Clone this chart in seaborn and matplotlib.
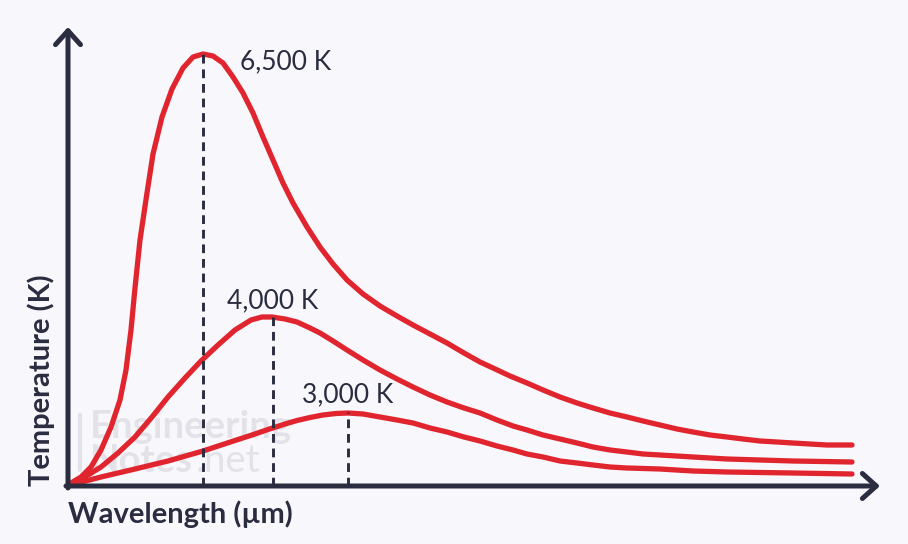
import matplotlib
matplotlib.use("Agg")
import matplotlib.pyplot as plt
import numpy as np
import pandas as pd
import seaborn as sns

# curves (arbitrary units: wavelength, intensity)
wl_6500 = [0.00, 0.03, 0.13, 0.23, 0.33, 0.43, 0.52, 0.58, 0.63, 0.67, 0.72, 0.79, 0.85,
           0.94, 1.04, 1.15, 1.25, 1.35, 1.45, 1.55, 1.65, 1.75, 1.85, 1.95, 2.05, 2.15,
           2.25, 2.39, 2.52, 2.65, 2.79, 2.95, 3.12, 3.29, 3.45, 3.62, 3.79, 3.96, 4.12,
           4.25, 4.42, 4.59, 4.75, 4.92, 5.09, 5.25, 5.42, 5.59, 5.75, 5.92, 6.09, 6.25,
           6.42, 6.59, 6.75, 6.92, 7.09, 7.25, 7.42, 7.59, 7.84]
in_6500 = [0.00, 0.03, 0.09, 0.19, 0.36, 0.59, 0.86, 1.16, 1.56, 1.98, 2.46, 2.93, 3.32,
           3.69, 3.97, 4.18, 4.29, 4.32, 4.30, 4.23, 4.09, 3.93, 3.73, 3.49, 3.26, 3.03,
           2.83, 2.59, 2.39, 2.22, 2.06, 1.92, 1.80, 1.70, 1.61, 1.52, 1.43, 1.33, 1.24,
           1.18, 1.10, 1.03, 0.96, 0.89, 0.83, 0.78, 0.73, 0.69, 0.65, 0.61, 0.57, 0.54,
           0.51, 0.49, 0.47, 0.45, 0.44, 0.43, 0.42, 0.41, 0.41]

wl_4000 = [0.00, 0.07, 0.20, 0.33, 0.50, 0.67, 0.84, 1.00, 1.17, 1.33, 1.50, 1.67, 1.83,
           1.94, 2.04, 2.17, 2.29, 2.42, 2.52, 2.65, 2.79, 2.95, 3.12, 3.29, 3.45, 3.62,
           3.79, 3.96, 4.12, 4.29, 4.45, 4.59, 4.75, 4.92, 5.09, 5.25, 5.42, 5.59, 5.75,
           5.92, 6.25, 6.59, 6.92, 7.25, 7.84]
in_4000 = [0.00, 0.04, 0.11, 0.19, 0.33, 0.49, 0.69, 0.89, 1.08, 1.25, 1.41, 1.56, 1.66,
           1.69, 1.69, 1.67, 1.64, 1.58, 1.53, 1.45, 1.36, 1.26, 1.16, 1.07, 0.99, 0.91,
           0.84, 0.78, 0.73, 0.66, 0.60, 0.56, 0.51, 0.47, 0.43, 0.39, 0.36, 0.34, 0.32,
           0.31, 0.29, 0.27, 0.26, 0.25, 0.24]

wl_3000 = [0.00, 0.10, 0.33, 0.67, 1.00, 1.35, 1.67, 1.84, 2.00, 2.17, 2.29, 2.42, 2.55,
           2.68, 2.80, 2.95, 3.12, 3.29, 3.45, 3.62, 3.79, 3.96, 4.12, 4.29, 4.45, 4.59,
           4.75, 4.92, 5.09, 5.25, 5.42, 5.59, 5.92, 6.25, 6.59, 7.25, 7.84]
in_3000 = [0.00, 0.03, 0.09, 0.17, 0.25, 0.35, 0.455, 0.51, 0.565, 0.62, 0.655, 0.685, 0.71,
           0.725, 0.73, 0.72, 0.69, 0.66, 0.63, 0.58, 0.54, 0.49, 0.45, 0.40, 0.36, 0.32,
           0.29, 0.25, 0.23, 0.21, 0.19, 0.18, 0.17, 0.15, 0.14, 0.13, 0.12]

labels = ["6,500 K", "4,000 K", "3,000 K"]
peak_wl = [1.35, 2.05, 2.80]
peak_in = [4.32, 1.69, 0.74]

RED = "#e1252f"
NAVY = "#2a2c40"
BG = "#f8f8fc"

df = pd.concat([
    pd.DataFrame({"wl": wl_6500, "I": in_6500, "T": labels[0]}),
    pd.DataFrame({"wl": wl_4000, "I": in_4000, "T": labels[1]}),
    pd.DataFrame({"wl": wl_3000, "I": in_3000, "T": labels[2]}),
])

sns.set_theme(style="white")
plt.rcParams["font.family"] = ["Lato", "DejaVu Sans"]

fig = plt.figure(figsize=(9.08, 5.44), dpi=100, facecolor=BG)
ax = fig.add_axes([0, 0, 1, 1])
ax.set_facecolor(BG)
ax.set_xlim(-0.68, 8.40)
ax.set_ylim(-0.58, 4.86)
ax.axis("off")

# watermark
wm = "#e2e2e8"
ax.text(0.22, 0.48, "Engineering", fontsize=27.5, fontweight="bold", color=wm, zorder=0)
ax.text(0.22, 0.14, "Notes", fontsize=27.5, fontweight="bold", color=wm, zorder=0)
ax.text(1.28, 0.14, ".net", fontsize=27.5, color=wm, zorder=0)
ax.plot([0.12, 0.12], [0.16, 0.71], color=wm, lw=3, zorder=0)

sns.lineplot(data=df, x="wl", y="I", hue="T", palette=[RED] * 3, legend=False,
             sort=False, lw=3.8, solid_capstyle="round", solid_joinstyle="round",
             ax=ax, zorder=2)

ax.vlines(peak_wl, 0, peak_in, colors=NAVY, linestyles=(0, (3, 2)), lw=2.1, zorder=3)

label_pos = [(1.72, 4.24), (1.59, 1.85), (2.34, 0.91)]
for lab, (lx, ly) in zip(labels, label_pos):
    ax.text(lx, ly, lab, fontsize=19, color=NAVY, ha="left", va="center")

# axes with arrows
arrow = dict(arrowstyle="->,head_length=0.5,head_width=0.45", color=NAVY, lw=3.6,
             shrinkA=0, shrinkB=0, mutation_scale=20, capstyle="round", joinstyle="round")
ax.annotate("", xy=(8.12, 0), xytext=(-0.02, 0), arrowprops=arrow, zorder=4)
ax.annotate("", xy=(0, 4.59), xytext=(0, -0.02), arrowprops=arrow, zorder=4)

ax.text(0.0, -0.28, "Wavelength (µm)", fontsize=21, fontweight="bold", color=NAVY,
        ha="left", va="center")
ax.text(-0.27, 0.0, "Temperature (K)", fontsize=21, fontweight="bold", color=NAVY,
        rotation=90, ha="center", va="bottom")

fig.savefig("out.png", dpi=100, facecolor=BG)
